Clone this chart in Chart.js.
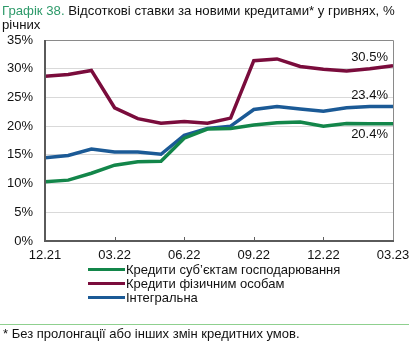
<!DOCTYPE html>
<html><head><meta charset="utf-8">
<script src="https://cdn.jsdelivr.net/npm/chart.js@4"></script>
<style>
html,body{margin:0;padding:0;width:409px;height:347px;overflow:hidden;background:#fff;font-family:"Liberation Sans",Arial,sans-serif;}
#wrap{position:absolute;left:0;top:0;width:440px;height:347px;}
.t{position:absolute;font-size:13px;color:#111;white-space:nowrap;line-height:14px;}
.lg{position:absolute;left:88px;font-size:13px;color:#111;white-space:nowrap;line-height:14px;}
.lg span{display:inline-block;width:37px;height:3px;vertical-align:middle;margin-right:1px;position:relative;top:-1px;}
#sep{position:absolute;left:0;top:324px;width:409px;height:1px;background:#8fd08f;}
</style></head><body>
<div id="wrap"><canvas id="c" width="440" height="347"></canvas></div>
<div class="t" style="left:2px;top:4px;font-size:13.2px;"><span style="color:#2e9a6a">Графік 38.</span> Відсоткові ставки за новими кредитами* у гривнях, %</div>
<div class="t" style="left:2px;top:18px;font-size:13.2px;">річних</div>
<div class="lg" style="top:263px;"><span style="background:#13864a"></span>Кредити суб’єктам господарювання</div>
<div class="lg" style="top:277px;"><span style="background:#7a0c3c"></span>Кредити фізичним особам</div>
<div class="lg" style="top:291px;"><span style="background:#1b5a96"></span>Інтегральна</div>
<div id="sep"></div>
<div class="t" style="left:3px;top:327px;">* Без пролонгації або інших змін кредитних умов.</div>
<script>
const months = ["12.21","01.22","02.22","03.22","04.22","05.22","06.22","07.22","08.22","09.22","10.22","11.22","12.22","01.23","02.23","03.23"];
const business = [10.3,10.6,11.8,13.2,13.8,13.9,17.9,19.5,19.6,20.2,20.6,20.7,20.0,20.45,20.4,20.4];
const individuals = [28.7,29.0,29.7,23.2,21.3,20.5,20.8,20.5,21.4,31.4,31.7,30.4,29.9,29.6,30.0,30.5];
const integral = [14.5,14.9,16.0,15.5,15.5,15.1,18.4,19.6,20.0,22.9,23.4,23.0,22.6,23.2,23.4,23.4];
const yTicks = [0,5,10,15,20,25,30,35];
const endLabels = ["20.4%","30.5%","23.4%"];
const endOffsets = [11,-8,-11];

const decor = {
  id:'decor',
  afterDatasetsDraw(chart){
    const ctx = chart.ctx, a = chart.chartArea, x = chart.scales.x;
    ctx.save();
    ctx.strokeStyle = '#606060'; ctx.lineWidth = 1;
    months.forEach((m,i)=>{
      if(i%3===0 && i>0 && i<months.length-1){
        const px = Math.round(x.getPixelForValue(i))+0.5;
        ctx.beginPath(); ctx.moveTo(px,a.bottom); ctx.lineTo(px,a.bottom-4); ctx.stroke();
      }
    });
    ctx.strokeStyle = '#8a8a8a';
    ctx.beginPath(); ctx.moveTo(a.left,a.top+0.5); ctx.lineTo(a.right+0.5,a.top+0.5); ctx.lineTo(a.right+0.5,a.bottom); ctx.stroke();
    ctx.strokeStyle = '#5a5a5a'; ctx.lineWidth = 2;
    ctx.beginPath(); ctx.moveTo(a.left,a.top); ctx.lineTo(a.left,a.bottom); ctx.lineTo(a.right+1,a.bottom); ctx.stroke();
    ctx.font = '13px "Liberation Sans", Arial, sans-serif';
    ctx.fillStyle = '#111'; ctx.textAlign = 'right'; ctx.textBaseline = 'middle';
    chart.data.datasets.forEach((ds,i)=>{
      const last = ds.data.length-1;
      const px = x.getPixelForValue(last);
      const py = chart.scales.y.getPixelForValue(ds.data[last]);
      ctx.fillText(endLabels[i], px-5, py+endOffsets[i]);
    });
    ctx.restore();
  }
};

new Chart(document.getElementById('c'),{
  type:'line',
  data:{labels:months,datasets:[
    {label:'Кредити суб’єктам господарювання',data:business,borderColor:'#13864a',borderWidth:3.5,pointRadius:0,tension:0},
    {label:'Кредити фізичним особам',data:individuals,borderColor:'#7a0c3c',borderWidth:3.5,pointRadius:0,tension:0},
    {label:'Інтегральна',data:integral,borderColor:'#1b5a96',borderWidth:3.5,pointRadius:0,tension:0}
  ]},
  options:{
    responsive:false,animation:false,
    layout:{padding:{left:0,right:47,top:40,bottom:0}},
    plugins:{legend:{display:false},tooltip:{enabled:false}},
    scales:{
      x:{
        offset:false,
        grid:{display:false,drawTicks:false},
        border:{display:false},
        ticks:{autoSkip:false,maxRotation:0,padding:7,color:'#111',font:{family:'"Liberation Sans", Arial, sans-serif',size:13},
          callback:(v,i)=> i%3===0 ? months[i] : ''},
        afterFit:s=>{s.height=106;}
      },
      y:{
        min:0,max:35,
        afterBuildTicks:s=>{s.ticks=yTicks.map(v=>({value:v}));},
        grid:{color:c=> (c.tick && (c.tick.value===0||c.tick.value===35)) ? 'rgba(0,0,0,0)' : '#d9d9d9',drawTicks:false,lineWidth:1},
        border:{display:false},
        ticks:{padding:12,color:'#111',font:{family:'"Liberation Sans", Arial, sans-serif',size:13},callback:v=>v+'%'},
        afterFit:s=>{s.width=45;}
      }
    }
  },
  plugins:[decor]
});
</script>
</body></html>
